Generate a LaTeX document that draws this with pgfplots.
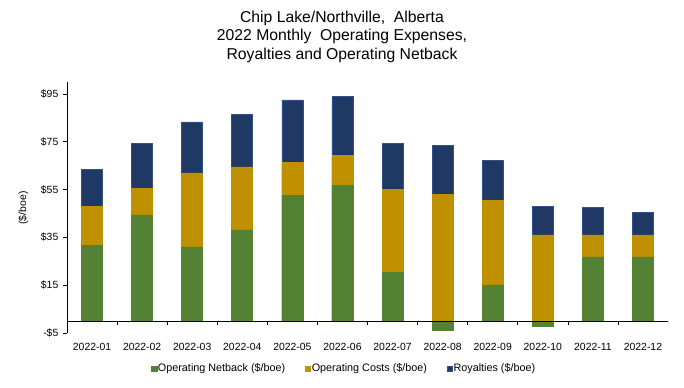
\documentclass[border=0pt]{standalone}
\usepackage{fontspec}
\setmainfont{Liberation Sans}
\usepackage{pgfplots}
\pgfplotsset{compat=1.18}
\definecolor{netg}{RGB}{84,130,53}
\definecolor{opc}{RGB}{191,144,0}
\definecolor{roy}{RGB}{31,56,100}
\definecolor{royedge}{RGB}{47,82,143}
\begin{document}
\begin{tikzpicture}
\useasboundingbox (0,0) rectangle (513pt,-291pt);
\node[align=center, font=\fontsize{11.8}{14}\selectfont] at (256.5pt,-27.6pt)
  {Chip Lake/Northville,\ \ Alberta\\2022 Monthly\ \ Operating Expenses,\\Royalties and Operating Netback};
\node[rotate=90, font=\fontsize{7.8}{9}\selectfont] at (17.5pt,-156pt) {(\$/boe)};
\begin{axis}[
  at={(50.25pt,-249.75pt)}, anchor=south west,
  scale only axis, width=450.75pt, height=188.25pt,
  xmin=-0.5, xmax=11.5, ymin=-5, ymax=100,
  axis y line*=left, axis x line*=bottom,
  x axis line style={draw=none},
  xtick={0,...,11},
  xticklabels={2022-01,2022-02,2022-03,2022-04,2022-05,2022-06,2022-07,2022-08,2022-09,2022-10,2022-11,2022-12},
  xtick style={draw=none},
  xticklabel style={font=\fontsize{7.8}{9}\selectfont, yshift=-1pt},
  ytick={-5,15,35,55,75,95},
  yticklabels={-\$5,\$15,\$35,\$55,\$75,\$95},
  yticklabel style={font=\fontsize{7.8}{9}\selectfont},
  ytick align=outside, major tick length=3pt,
  ytick style={black, line width=0.5pt},
  axis line style={black, line width=0.6pt},
  /pgf/number format/assume math mode=true,
  ybar, bar shift=0pt, bar width=15.75pt,
  reverse legend,
  legend columns=3,
  legend style={at={(0.46,-0.143)}, anchor=center, draw=none, fill=none,
    font=\fontsize{8.1}{9}\selectfont, column sep=0pt, inner sep=0pt,
    nodes={inner xsep=0.6pt, inner ysep=0pt},
    /tikz/every even column/.append style={column sep=14pt}},
  legend image code/.code={\fill[#1] (0pt,-2.1pt) rectangle (4.2pt,2.1pt);},
]
% Royalties: top of the full stack
\addplot[fill=roy, draw=royedge, line width=0.5pt] coordinates {
  (0,63.3) (1,74.2) (2,83.3) (3,86.3) (4,92.5) (5,93.9)
  (6,74.2) (7,73.6) (8,67.1) (9,48.1) (10,47.4) (11,45.3)};
\addlegendentry{Royalties (\$/boe)}
% Operating costs: top of netback + costs (costs start at 0 where netback < 0)
\addplot[fill=opc, draw=opc, line width=0.5pt] coordinates {
  (0,47.8) (1,55.5) (2,62.0) (3,64.5) (4,66.2) (5,69.2)
  (6,55.0) (7,52.9) (8,50.4) (9,36.0) (10,36.0) (11,36.0)};
\addlegendentry{Operating Costs (\$/boe)}
% Operating netback
\addplot[fill=netg, draw=netg, line width=0.5pt] coordinates {
  (0,31.6) (1,44.4) (2,31.0) (3,38.1) (4,52.4) (5,56.6)
  (6,20.5) (7,-4.0) (8,15.1) (9,-2.4) (10,26.8) (11,26.8)};
\addlegendentry{Operating Netback (\$/boe)}
\draw[black, line width=0.6pt] (axis cs:-0.5,0) -- (axis cs:11.5,0);
\pgfplotsinvokeforeach{0.5,1.5,2.5,3.5,4.5,5.5,6.5,7.5,8.5,9.5,10.5,11.5}{
  \draw[black, line width=0.5pt] (axis cs:#1,0) -- ++(0pt,-3pt);
}
\end{axis}
\end{tikzpicture}
\end{document}
